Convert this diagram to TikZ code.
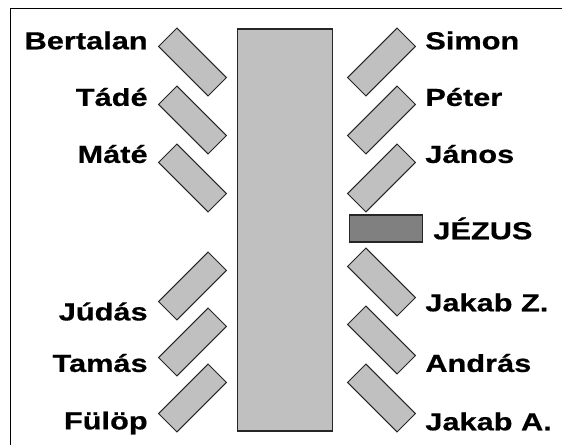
\documentclass[tikz,border=0pt]{standalone}
\usepackage{fontspec}
\setmainfont{Liberation Sans}
\newfontfamily\apostlefont[FakeStretch = 1.25, FakeBold = 0.6]{Liberation Sans}
\usetikzlibrary{positioning}

\definecolor{chairgrey}{RGB}{192,192,192}
\definecolor{jesusgrey}{RGB}{128,128,128}

\begin{document}
\begin{tikzpicture}[x = 0.02cm, y = -0.02cm,
	chair/.style = {draw = black!85, line width = 0.55pt, fill = chairgrey, minimum width = 1.4cm, minimum height = 0.52cm, inner sep = 0pt},
	apostle/.style = {font = \fontsize{14}{16}\apostlefont\bfseries, inner sep = 0pt}]
				\useasboundingbox (0, 0) rectangle (562, 445);
				\draw[black, line width = 1.1pt] (10.5, 445) -- (10.5, 8.5) -- (562, 8.5);
				\node[draw = black!85, line width = 0.85pt, fill = chairgrey, minimum width = 1.9cm, minimum height = 8.04cm, inner sep = 0pt] (table) at (285, 230) {};
				\node[draw = black!85, line width = 0.85pt, fill = jesusgrey, minimum width = 1.47cm, minimum height = 0.54cm, inner sep = 0pt] (jezus) at (386, 228.5) {};
				\node[chair, rotate = -45] (bertalan) at (192.5, 62) {};
				\node[chair, rotate = -45] (tade) at (192.5, 120) {};
				\node[chair, rotate = -45] (mate) at (192.5, 178) {};
				\node[chair, rotate = 45] (judas) at (192.5, 286) {};
				\node[chair, rotate = 45] (tamas) at (192.5, 342) {};
				\node[chair, rotate = 45] (fulop) at (192.5, 398) {};
				\node[chair, rotate = 45] (simon) at (381.5, 62) {};
				\node[chair, rotate = 45] (peter) at (381.5, 120) {};
				\node[chair, rotate = 45] (janos) at (381.5, 178) {};
				\node[chair, rotate = -45] (jakabz) at (381.5, 282) {};
				\node[chair, rotate = -45] (andras) at (381.5, 340) {};
				\node[chair, rotate = -45] (jakaba) at (381.5, 398) {};
				\node[apostle, anchor = east] (nbertalan) at (148, 40.5) {Bertalan};
				\node[apostle, anchor = east] (ntade) at (148, 97) {Tádé};
				\node[apostle, anchor = east] (nmate) at (148, 154) {Máté};
				\node[apostle, anchor = east] (njudas) at (148, 311.5) {Júdás};
				\node[apostle, anchor = east] (ntamas) at (148, 363) {Tamás};
				\node[apostle, anchor = east] (nfulop) at (148, 423) {Fülöp};
				\node[apostle, anchor = west] (nsimon) at (425, 40.5) {Simon};
				\node[apostle, anchor = west] (npeter) at (425, 97) {Péter};
				\node[apostle, anchor = west] (njanos) at (425, 154) {János};
				\node[apostle, anchor = west] (njezus) at (433, 228.5) {JÉZUS};
				\node[apostle, anchor = west] (njakabz) at (425, 302.5) {Jakab Z.};
				\node[apostle, anchor = west] (nandras) at (425, 363) {András};
				\node[apostle, anchor = west] (njakaba) at (425, 421.5) {Jakab A.};
			\end{tikzpicture}
\end{document}
